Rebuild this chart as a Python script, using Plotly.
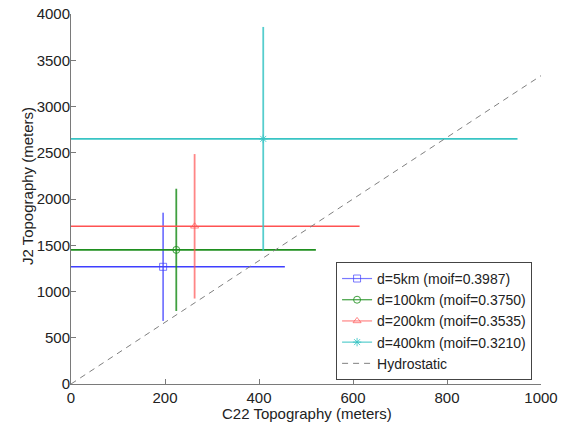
import plotly.graph_objects as go

labels = ["d=5km (moif=0.3987)", "d=100km (moif=0.3750)",
          "d=200km (moif=0.3535)", "d=400km (moif=0.3210)"]
c22 = [196, 224, 263, 409]
c22_err = [259, 297, 351, 541]
j2 = [1267, 1450, 1705, 2650]
j2_err = [585, 661, 781, 1210]
colors = ["#3f3fff", "#1f8f1f", "#ff5252", "#38c4c4"]
vcolors = ["rgba(63,63,255,0.7)", "rgba(31,143,31,0.85)",
           "rgba(255,82,82,0.7)", "rgba(56,196,196,0.85)"]
symbols = ["square-open", "circle-open", "triangle-up-open", "asterisk-open"]

hydro_x = [0, 1000]
hydro_y = [0, 3333.3]

fig = go.Figure()
for i in range(len(labels)):
    fig.add_trace(go.Scatter(
        x=[c22[i]], y=[j2[i]], mode="lines+markers", name=labels[i],
        line=dict(color=vcolors[i], width=1.2),
        marker=dict(symbol=symbols[i], size=7, color=vcolors[i],
                    line=dict(color=vcolors[i], width=1)),
        error_x=dict(type="data", array=[c22_err[i]], color=colors[i],
                     thickness=1.6, width=0),
        error_y=dict(type="data", array=[j2_err[i]], color=vcolors[i],
                     thickness=1.8, width=0),
    ))

fig.add_trace(go.Scatter(
    x=hydro_x, y=hydro_y, mode="lines", name="Hydrostatic",
    line=dict(color="#808080", width=1, dash="6px,5px"),
))

axis_common = dict(
    showgrid=False, zeroline=False, showline=True, linecolor="#7a7a7a",
    linewidth=1, ticks="inside", ticklen=5, tickcolor="#7a7a7a",
    tickfont=dict(size=15, color="#222"), mirror=False, automargin=False,
)

fig.update_layout(
    width=563, height=423,
    margin=dict(l=71, r=22, t=14, b=39),
    paper_bgcolor="white", plot_bgcolor="white",
    font=dict(family="Liberation Sans, Arial, sans-serif", size=15, color="#222"),
    xaxis=dict(range=[0, 1000], tickvals=[0, 200, 400, 600, 800, 1000],
               **axis_common),
    yaxis=dict(range=[0, 4000], tickvals=list(range(0, 4001, 500)),
               ticklabelstandoff=-3, **axis_common),
    legend=dict(x=0.981, y=0.011, xanchor="right", yanchor="bottom",
                bgcolor="white", bordercolor="#444", borderwidth=1,
                font=dict(size=14), tracegroupgap=0, itemwidth=30),
    showlegend=True,
    annotations=[
        dict(text="C22 Topography (meters)", xref="paper", yref="paper",
             x=0.502, y=0, xanchor="center", yanchor="middle", yshift=-29,
             showarrow=False, font=dict(size=15)),
        dict(text="J2 Topography (meters)", xref="paper", yref="paper",
             x=0, y=0.535, xanchor="center", yanchor="middle", xshift=-44,
             textangle=-90, showarrow=False, font=dict(size=15)),
    ],
)

fig.write_html("out.html", config={"displayModeBar": False},
               post_script="document.body.style.margin='0px';")
